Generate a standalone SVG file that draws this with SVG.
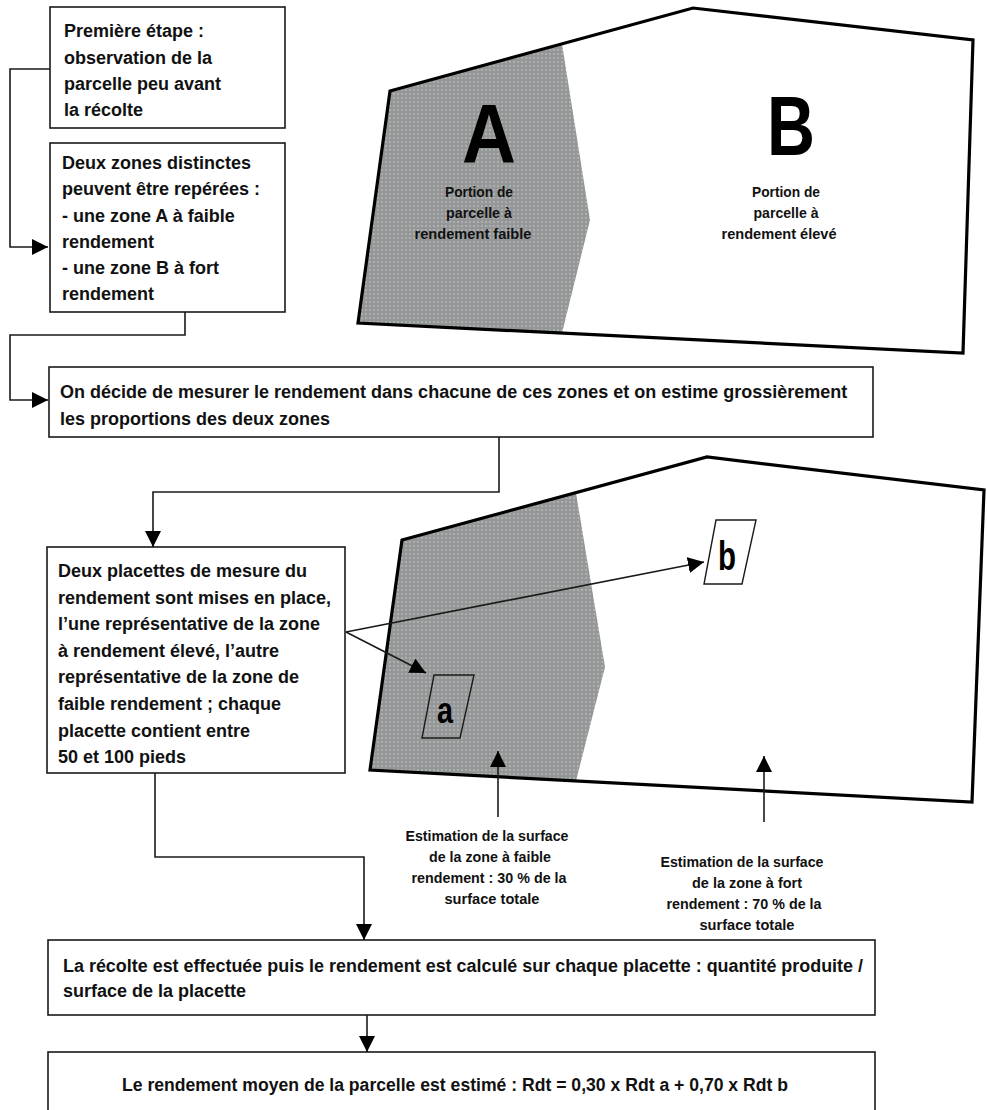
<svg xmlns="http://www.w3.org/2000/svg" width="987" height="1110" viewBox="0 0 987 1110">
<style>
.box{fill:#fff;stroke:#1a1a1a;stroke-width:1.6}
.t{font-family:"Liberation Sans",Arial,sans-serif;font-weight:bold;font-size:18px;fill:#111}
.s{font-family:"Liberation Sans",Arial,sans-serif;font-weight:bold;font-size:15px;fill:#111;text-anchor:middle}
.big{font-family:"Liberation Sans",Arial,sans-serif;font-weight:bold;font-size:84px;fill:#000;text-anchor:middle}
.pl{font-family:"Liberation Sans",Arial,sans-serif;font-weight:bold;fill:#000;text-anchor:middle}
.edge{fill:none;stroke:#1a1a1a;stroke-width:1.6}
.par{fill:none;stroke:#000;stroke-width:3.2;stroke-linejoin:miter}
.plac{fill:none;stroke:#1a1a1a;stroke-width:1.4}
</style>
<defs>
<pattern id="dots" width="4" height="4" patternUnits="userSpaceOnUse">
<rect width="4" height="4" fill="#969696"/>
<circle cx="2" cy="2" r="0.7" fill="#c4e2e8"/>
</pattern>
<marker id="ah" viewBox="0 0 16 16" refX="16" refY="8" markerWidth="16" markerHeight="16" markerUnits="userSpaceOnUse" orient="auto">
<path d="M0,0 L16,8 L0,16 Z" fill="#000"/>
</marker>
</defs>

<g id="parcelle1">
<polygon points="390,91 693,8 973,40 963,353 358,323" fill="#fff"/>
<polygon points="390,91 562,44 590,220 562,333 358,323" fill="url(#dots)"/>
<polygon class="par" points="390,91 693,8 973,40 963,353 358,323"/>
<text class="big" x="489" y="163" textLength="54" lengthAdjust="spacingAndGlyphs">A</text>
<text class="big" x="791" y="155" textLength="48" lengthAdjust="spacingAndGlyphs">B</text>
<text class="s" x="479" y="197" textLength="68" lengthAdjust="spacingAndGlyphs">Portion de</text>
<text class="s" x="479" y="218" textLength="66" lengthAdjust="spacingAndGlyphs">parcelle à</text>
<text class="s" x="473" y="239" textLength="117" lengthAdjust="spacingAndGlyphs">rendement faible</text>
<text class="s" x="786" y="197" textLength="68" lengthAdjust="spacingAndGlyphs">Portion de</text>
<text class="s" x="786" y="218" textLength="65" lengthAdjust="spacingAndGlyphs">parcelle à</text>
<text class="s" x="779" y="239" textLength="115" lengthAdjust="spacingAndGlyphs">rendement élevé</text>
</g>

<g id="parcelle2">
<polygon points="402,540 707,457 984,490 972,802 370,770" fill="#fff"/>
<polygon points="402,540 576,493 605,667 576,781 370,770" fill="url(#dots)"/>
<polygon class="par" points="402,540 707,457 984,490 972,802 370,770"/>
</g>

<g id="placette-a">
<polygon class="plac" points="434,675 474,675 460,738 422,738"/>
<text class="pl" x="445" y="723" font-size="36" textLength="16" lengthAdjust="spacingAndGlyphs">a</text>
</g>

<g id="placette-b">
<polygon class="plac" points="716,520 756,520 742,584 704,584"/>
<text class="pl" x="727" y="570" font-size="40" textLength="18" lengthAdjust="spacingAndGlyphs">b</text>
</g>

<g id="box1">
<rect class="box" x="50" y="7" width="235" height="121"/>
<text class="t" x="64" y="37">Première étape :</text>
<text class="t" x="64" y="64">observation de la</text>
<text class="t" x="64" y="90">parcelle peu avant</text>
<text class="t" x="64" y="116">la récolte</text>
</g>

<g id="box2">
<rect class="box" x="50" y="143" width="235" height="169"/>
<text class="t" x="62" y="169">Deux zones distinctes</text>
<text class="t" x="62" y="195">peuvent être repérées :</text>
<text class="t" x="62" y="222">- une zone A à faible</text>
<text class="t" x="62" y="248">rendement</text>
<text class="t" x="62" y="274">- une zone B à fort</text>
<text class="t" x="62" y="300">rendement</text>
</g>

<g id="box3">
<rect class="box" x="49" y="367" width="824" height="70"/>
<text class="t" x="60" y="398">On décide de mesurer le rendement dans chacune de ces zones et on estime grossièrement</text>
<text class="t" x="60" y="425">les proportions des deux zones</text>
</g>

<g id="box4">
<rect class="box" x="47" y="547" width="298" height="226"/>
<text class="t" x="58" y="577">Deux placettes de mesure du</text>
<text class="t" x="58" y="603.6">rendement sont mises en place,</text>
<text class="t" x="58" y="630">l’une représentative de la zone</text>
<text class="t" x="58" y="657">à rendement élevé, l’autre</text>
<text class="t" x="58" y="683.4">représentative de la zone de</text>
<text class="t" x="58" y="710">faible rendement ; chaque</text>
<text class="t" x="58" y="736.7">placette contient entre</text>
<text class="t" x="58" y="763">50 et 100 pieds</text>
</g>

<g id="box5">
<rect class="box" x="48" y="940" width="827" height="75"/>
<text class="t" x="63" y="972" textLength="800" lengthAdjust="spacingAndGlyphs">La récolte est effectuée puis le rendement est calculé sur chaque placette : quantité produite /</text>
<text class="t" x="63" y="997">surface de la placette</text>
</g>

<g id="box6">
<rect class="box" x="48" y="1052" width="827" height="72"/>
<text class="t" x="122" y="1091" textLength="666" lengthAdjust="spacingAndGlyphs">Le rendement moyen de la parcelle est estimé : Rdt = 0,30 x Rdt a + 0,70 x Rdt b</text>
</g>

<g id="label-faible">
<text class="s" x="487" y="841" textLength="163" lengthAdjust="spacingAndGlyphs">Estimation de la surface</text>
<text class="s" x="490" y="862" textLength="122" lengthAdjust="spacingAndGlyphs">de la zone à faible</text>
<text class="s" x="489" y="883" textLength="155" lengthAdjust="spacingAndGlyphs">rendement : 30 % de la</text>
<text class="s" x="492" y="904" textLength="95" lengthAdjust="spacingAndGlyphs">surface totale</text>
</g>

<g id="label-fort">
<text class="s" x="742" y="867" textLength="163" lengthAdjust="spacingAndGlyphs">Estimation de la surface</text>
<text class="s" x="747" y="888" textLength="110" lengthAdjust="spacingAndGlyphs">de la zone à fort</text>
<text class="s" x="744" y="909" textLength="155" lengthAdjust="spacingAndGlyphs">rendement : 70 % de la</text>
<text class="s" x="747" y="930" textLength="95" lengthAdjust="spacingAndGlyphs">surface totale</text>
</g>

<g id="connectors">
<path class="edge" d="M50,69 H10 V247 H48" marker-end="url(#ah)"/>
<path class="edge" d="M185,312 V335 H10 V400 H48" marker-end="url(#ah)"/>
<path class="edge" d="M499,437 V492 H153 V547" marker-end="url(#ah)"/>
<path class="edge" d="M155,773 V857 H364 V940" marker-end="url(#ah)"/>
<path class="edge" d="M367,1015 V1052" marker-end="url(#ah)"/>
<path class="edge" d="M346,632 L704,562" marker-end="url(#ah)"/>
<path class="edge" d="M346,632 L426,673" marker-end="url(#ah)"/>
<path class="edge" d="M498,817 V751" marker-end="url(#ah)"/>
<path class="edge" d="M764,822 V756" marker-end="url(#ah)"/>
</g>
</svg>
